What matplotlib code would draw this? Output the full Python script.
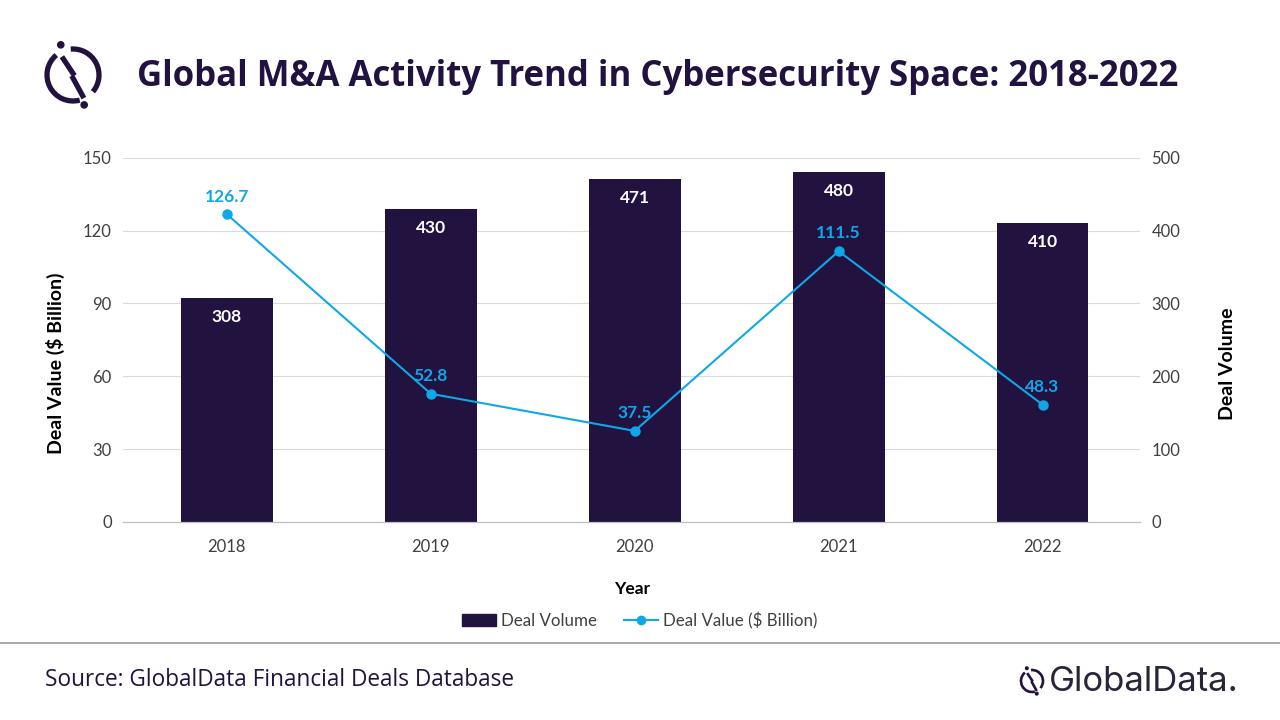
import numpy as np
import matplotlib.pyplot as plt
from matplotlib.patches import Arc, Circle
from matplotlib.lines import Line2D

plt.rcParams['font.family'] = ['Lato', 'DejaVu Sans']

years = ['2018', '2019', '2020', '2021', '2022']
deal_volume = [308, 430, 471, 480, 410]
deal_value = [126.7, 52.8, 37.5, 111.5, 48.3]

NAVY = '#22123f'
BLUE = '#0ea8e8'
GREY = '#404040'


def draw_logo(ax, cx, cy, r, lw):
    # rough GlobalData mark, drawn in pixel coords
    ax.add_patch(Arc((cx, cy), 2 * r, 2 * r, theta1=-40, theta2=95, lw=lw, color=NAVY))
    ax.add_patch(Arc((cx, cy), 2 * r, 2 * r, theta1=130, theta2=285, lw=lw, color=NAVY))
    ax.plot([cx - 0.37 * r, cx], [cy + 0.62 * r, cy + 0.06 * r], color=NAVY, lw=lw)
    ax.plot([cx, cx + 0.37 * r], [cy - 0.12 * r, cy - 0.8 * r], color=NAVY, lw=lw)
    ax.add_patch(Circle((cx - 0.47 * r, cy + 1.16 * r), 0.12 * r, color=NAVY))
    ax.add_patch(Circle((cx + 0.43 * r, cy - 1.15 * r), 0.12 * r, color=NAVY))


fig = plt.figure(figsize=(12.8, 7.2), dpi=100)

ax1 = fig.add_axes([0.096, 0.275, 0.795, 0.506])
ax2 = ax1.twinx()

x = np.arange(len(years))

# bars on the right axis (volume)
ax2.bar(x, deal_volume, width=0.45, color=NAVY, zorder=2)
for xi, v in zip(x, deal_volume):
    ax2.text(xi, v - 15, str(v), ha='center', va='top', color='white',
             fontsize=12.5, fontweight='bold')

# line on the left axis (value)
ax1.set_zorder(ax2.get_zorder() + 1)
ax1.patch.set_visible(False)
ax1.plot(x, deal_value, color=BLUE, lw=1.5, marker='o', ms=6.5, zorder=3)
for xi, v in zip(x, deal_value):
    ax1.text(xi, v + 4.0, f'{v:.1f}', ha='center', va='bottom', color=BLUE,
             fontsize=12.5, fontweight='bold')

ax1.set_ylim(0, 150)
ax1.set_yticks(range(0, 151, 30))
ax2.set_ylim(0, 500)
ax2.set_yticks(range(0, 501, 100))
ax1.set_xlim(-0.51, 4.48)
ax1.set_xticks(x)
ax1.set_xticklabels(years)

ax2.grid(axis='y', color='#d9d9d9', lw=0.8, zorder=0)
ax2.set_axisbelow(True)

for a in (ax1, ax2):
    for s in ('top', 'left', 'right'):
        a.spines[s].set_visible(False)
    a.spines['bottom'].set_color('#bfbfbf')
    a.tick_params(length=0, labelsize=12, colors=GREY, pad=8)
ax1.tick_params(axis='x', pad=12)

ax1.set_ylabel('Deal Value ($ Billion)', fontsize=14, fontweight='bold', color='black')
ax1.yaxis.set_label_coords(-0.057, 0.435)
ax2.set_ylabel('Deal Volume', fontsize=14, fontweight='bold', color='black')
ax2.yaxis.set_label_coords(1.077, 0.435)
ax1.set_xlabel('Year', fontsize=12.5, fontweight='bold', color='black', labelpad=19)

handles = [
    plt.Rectangle((0, 0), 1, 1, color=NAVY),
    Line2D([0], [0], color=BLUE, lw=1.5, marker='o', ms=6),
]
fig.legend(handles, ['Deal Volume', 'Deal Value ($ Billion)'], loc='center',
           bbox_to_anchor=(0.5, 0.138), ncol=2, frameon=False, fontsize=12.2,
           handlelength=2.0, handletextpad=0.3, columnspacing=1.6,
           labelcolor=GREY)

fig.text(0.107, 0.893, 'Global M&A Activity Trend in Cybersecurity Space: 2018-2022',
         fontsize=25, fontweight='bold', color=NAVY, family=['Open Sans', 'DejaVu Sans'],
         va='center', ha='left')

fig.add_artist(Line2D([0, 1], [0.107, 0.107], color='#9a9a9a', lw=1.2))
fig.text(0.035, 0.055, 'Source: GlobalData Financial Deals Database', fontsize=16.3,
         color=NAVY, family=['Open Sans', 'DejaVu Sans'], va='center', ha='left')

logo = fig.add_axes([0, 0, 1, 1], zorder=5)
logo.set_xlim(0, 1280)
logo.set_ylim(0, 720)
logo.axis('off')
draw_logo(logo, 73, 645, 26, 3.8)
draw_logo(logo, 1032, 39, 11, 1.9)
fig.text(0.8195, 0.053, 'GlobalData.', fontsize=25, color='#2a2438',
         family=['Inter', 'DejaVu Sans'], va='center', ha='left')

fig.savefig('out.png', dpi=100, facecolor='white')
